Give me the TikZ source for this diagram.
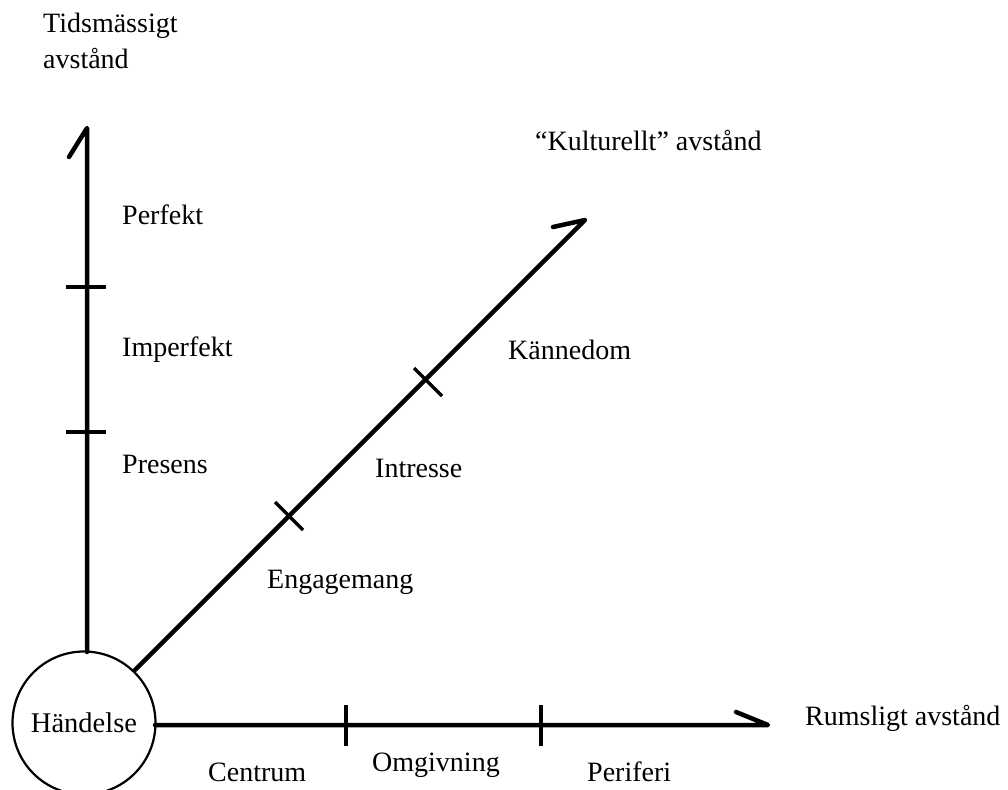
\documentclass[tikz,border=0pt]{standalone}
\usepackage{fontspec}
\setmainfont{Liberation Serif}
\begin{document}
\begin{tikzpicture}[x=1pt,y=-1pt,
  axis/.style={line width=4.5pt,line cap=round,line join=round},
  tick/.style={line width=3.5pt},
  lbl/.style={anchor=west,inner sep=0pt,font=\fontsize{28}{32}\selectfont},
  ev/.style={circle,draw,line width=2.2pt,minimum size=143pt,inner sep=0pt,font=\fontsize{28.5}{32}\selectfont}]
\useasboundingbox (0,0) rectangle (1008,789);
\begin{scope}
\clip (0,0) rectangle (1008,789);
\node[ev] (h) at (84,723) {Händelse};
\end{scope}
% coordinates
\coordinate (vtip) at (87,128);
\coordinate (vbarb) at (69,157);
\coordinate (htip) at (768,725);
\coordinate (hbarb) at (736,712);
\coordinate (dtip) at (585,220);
\coordinate (dbarb) at (553,227);
\coordinate (vs) at (87,652);
\coordinate (hs) at (155,725);
\coordinate (ds) at (135,670);
% axes
\draw[axis] (vs) -- (vtip) -- (vbarb);
\draw[axis] (hs) -- (htip) -- (hbarb);
\draw[axis] (ds) -- (dtip) -- (dbarb);
% ticks
\coordinate (t1a) at (66,287); \coordinate (t1b) at (106,287);
\coordinate (t2a) at (66,432); \coordinate (t2b) at (106,432);
\draw[tick] (t1a) -- (t1b);
\draw[tick] (t2a) -- (t2b);
\coordinate (t3a) at (346,705); \coordinate (t3b) at (346,746);
\coordinate (t4a) at (541,705); \coordinate (t4b) at (541,746);
\draw[tick] (t3a) -- (t3b);
\draw[tick] (t4a) -- (t4b);
\coordinate (t5a) at (414,368); \coordinate (t5b) at (442,396);
\coordinate (t6a) at (275,502); \coordinate (t6b) at (303,530);
\draw[tick] (t5a) -- (t5b);
\draw[tick] (t6a) -- (t6b);
% labels
\node[lbl] (tid1) at (43,26) {Tidsmässigt};
\node[lbl] (tid2) at (43,58) {avstånd};
\node[lbl] (kult) at (535,140) {“Kulturellt” avstånd};
\node[lbl] (perf) at (122,215) {Perfekt};
\node[lbl] (imp) at (122,350) {Imperfekt};
\node[lbl] (pres) at (122,464) {Presens};
\node[lbl] (kan) at (508,350) {Kännedom};
\node[lbl] (intr) at (375,468) {Intresse};
\node[lbl] (eng) at (267,582) {Engagemang};
\node[lbl] (cen) at (208,772) {Centrum};
\node[lbl] (omg) at (372,765) {Omgivning};
\node[lbl] (per) at (587,772) {Periferi};
\node[lbl] (rum) at (805,718) {Rumsligt avstånd};
\end{tikzpicture}
\end{document}
